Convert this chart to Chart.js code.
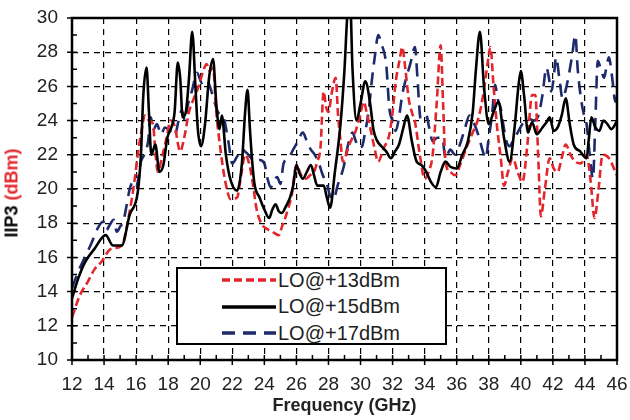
<!DOCTYPE html>
<html>
<head>
<meta charset="utf-8">
<script src="https://cdn.jsdelivr.net/npm/chart.js@4/dist/chart.umd.min.js"></script>
<style>
  body { margin: 0; background: #fff; }
  #wrap { position: relative; width: 630px; height: 420px; }
  #ytitle {
    position: absolute; left: 12px; top: 193px;
    transform: translate(-50%, -50%) rotate(-90deg);
    font: bold 18px "Liberation Sans", Arial, sans-serif; white-space: nowrap; color: #000;
  }
  #ytitle span { color: #e3262b; }
  #legend {
    position: absolute; left: 176px; top: 267px; width: 267px; height: 74px;
    border: 2px solid #000; background: #fff;
    font: 20px "Liberation Sans", Arial, sans-serif; color: #222;
  }
  .row { position: absolute; left: 0; height: 24px; display: flex; align-items: center; }
  .row svg { margin-left: 44px; margin-right: 2px; }
</style>
</head>
<body>
<div id="wrap">
  <canvas id="chart" width="630" height="420"></canvas>
  <div id="ytitle">IIP3 <span>(dBm)</span></div>
  <div id="legend"></div>
</div>
<script>
const seriesNames = ['LO@+13dBm', 'LO@+15dBm', 'LO@+17dBm'];
const seriesColors = ['#e3262b', '#000000', '#1d2a6b'];
const seriesDash = [[8, 4], [], [13, 8]];

const xTicks = [12, 14, 16, 18, 20, 22, 24, 26, 28, 30, 32, 34, 36, 38, 40, 42, 44, 46];
const yTicks = [10, 12, 14, 16, 18, 20, 22, 24, 26, 28, 30];

// LO@+13dBm
const freq13 = [12.0, 12.5, 13.0, 13.4, 13.8, 14.45, 15.1, 15.6, 15.9, 16.1, 16.35, 16.55, 16.8, 17.05, 17.2, 17.35, 17.6, 17.9, 18.15, 18.4, 18.75, 19.0, 19.3, 19.6, 19.9, 20.15, 20.4, 20.6, 20.8, 21.0, 21.25, 21.55, 21.9, 22.3, 22.55, 22.8, 23.05, 23.3, 23.5, 23.8, 24.1, 24.5, 24.9, 25.1, 25.3, 25.5, 25.7, 26.0, 26.3, 26.6, 26.85, 27.1, 27.3, 27.5, 27.7, 27.85, 28.0, 28.2, 28.45, 28.6, 28.75, 28.9, 29.1, 29.3, 29.5, 29.7, 29.95, 30.2, 30.4, 30.6, 30.85, 31.1, 31.45, 31.8, 32.0, 32.2, 32.45, 32.6, 32.8, 33.0, 33.2, 33.4, 33.7, 34.0, 34.25, 34.5, 34.75, 35.0, 35.15, 35.3, 35.6, 35.9, 36.25, 36.6, 37.0, 37.4, 37.7, 37.95, 38.1, 38.3, 38.5, 38.75, 38.95, 39.2, 39.5, 39.8, 40.1, 40.4, 40.7, 40.9, 41.1, 41.25, 41.5, 41.8, 42.05, 42.3, 42.55, 42.8, 43.1, 43.4, 43.75, 44.1, 44.35, 44.6, 44.85, 45.1, 45.5, 45.9, 46.0];
const iip3_13 = [12.5, 13.8, 14.6, 15.3, 15.7, 16.5, 16.7, 18.7, 20.5, 22.0, 23.5, 24.3, 24.0, 23.8, 22.2, 21.0, 21.8, 23.0, 24.0, 23.7, 22.2, 23.0, 24.5, 25.3, 26.0, 26.8, 27.3, 26.9, 27.1, 24.5, 22.4, 20.5, 19.4, 19.5, 20.8, 22.0, 21.5, 20.2, 18.9, 18.0, 17.7, 17.5, 17.3, 17.8, 18.3, 18.9, 19.6, 21.4, 20.8, 20.6, 20.8, 21.0, 21.6, 22.4, 25.7, 24.8, 24.5, 25.6, 26.5, 24.3, 22.8, 21.6, 22.0, 22.6, 23.0, 23.4, 24.2, 25.1, 24.4, 23.6, 22.5, 21.6, 22.4, 23.2, 24.5, 26.3, 27.6, 28.3, 27.0, 25.3, 24.5, 23.9, 22.0, 20.6, 21.0, 22.0, 25.0, 28.4, 25.0, 21.6, 21.0, 20.8, 21.5, 22.4, 23.3, 24.3, 25.8, 27.5, 28.3, 26.0, 23.8, 21.8, 20.2, 21.0, 21.8, 21.0, 20.4, 22.5, 25.5, 25.5, 21.5, 18.4, 20.0, 21.8, 21.2, 21.0, 21.8, 22.6, 22.0, 21.6, 21.5, 22.0, 20.5, 18.3, 20.0, 22.0, 21.8, 21.0, 20.8];

// LO@+15dBm
const freq15 = [12.0, 12.4, 12.8, 13.4, 14.1, 14.55, 15.1, 15.6, 16.1, 16.3, 16.45, 16.65, 16.8, 16.95, 17.2, 17.45, 17.7, 17.95, 18.2, 18.4, 18.6, 18.75, 18.9, 19.1, 19.3, 19.5, 19.7, 19.85, 20.05, 20.3, 20.55, 20.8, 21.0, 21.2, 21.35, 21.6, 21.9, 22.3, 22.6, 22.8, 22.95, 23.1, 23.25, 23.4, 23.7, 24.0, 24.3, 24.5, 24.7, 24.9, 25.1, 25.35, 25.6, 25.8, 26.0, 26.2, 26.4, 26.65, 26.9, 27.1, 27.3, 27.5, 27.7, 27.9, 28.1, 28.4, 28.75, 29.0, 29.2, 29.35, 29.5, 29.75, 30.0, 30.3, 30.6, 30.8, 31.05, 31.3, 31.6, 31.9, 32.15, 32.4, 32.65, 32.9, 33.2, 33.5, 33.8, 34.1, 34.4, 34.7, 35.0, 35.3, 35.6, 36.0, 36.35, 36.7, 37.0, 37.2, 37.45, 37.7, 38.0, 38.3, 38.6, 38.95, 39.3, 39.6, 39.85, 40.0, 40.2, 40.45, 40.7, 41.0, 41.35, 41.6, 41.8, 42.05, 42.3, 42.55, 42.8, 43.05, 43.3, 43.7, 44.1, 44.25, 44.4, 44.65, 44.9, 45.15, 45.4, 45.65, 45.9, 46.0];
const iip3_15 = [13.6, 14.8, 15.7, 16.5, 17.3, 16.7, 16.7, 18.5, 19.8, 22.0, 25.5, 27.1, 24.5, 22.0, 22.6, 21.0, 21.4, 23.0, 23.6, 24.5, 27.4, 26.5, 24.2, 24.5, 26.5, 29.2, 26.0, 23.5, 22.5, 23.8, 26.5, 27.6, 25.0, 23.5, 24.3, 22.0, 20.5, 19.9, 21.5, 24.5, 25.8, 23.5, 21.5, 20.2, 19.5, 18.8, 18.3, 18.8, 19.1, 18.7, 18.6, 19.0, 19.5, 20.2, 21.4, 20.9, 20.6, 21.0, 21.4, 20.8, 20.2, 20.2, 20.2, 19.5, 18.9, 21.0, 23.8, 27.0, 30.5, 31.0, 27.0, 24.0, 25.0, 26.3, 25.0, 23.5, 22.8, 22.5, 22.2, 21.8, 22.2, 22.6, 23.5, 24.3, 22.8, 21.6, 21.4, 21.0, 20.4, 20.1, 21.0, 21.6, 21.3, 21.2, 22.0, 22.8, 24.5, 27.0, 29.2, 26.0, 23.8, 24.5, 25.1, 23.0, 21.6, 23.5, 26.0, 26.9, 25.5, 23.3, 23.9, 23.2, 23.6, 23.9, 24.2, 23.4, 23.6, 24.3, 25.3, 23.8, 22.6, 22.2, 21.8, 23.0, 24.2, 23.6, 23.4, 24.0, 23.8, 23.5, 23.8, 24.0];

// LO@+17dBm
const freq17 = [12.0, 12.4, 12.8, 13.2, 13.6, 13.95, 14.15, 14.35, 14.6, 14.8, 15.0, 15.2, 15.4, 15.6, 15.8, 16.0, 16.3, 16.5, 16.75, 16.9, 17.1, 17.3, 17.55, 17.8, 18.1, 18.4, 18.65, 18.85, 19.05, 19.2, 19.5, 19.8, 20.1, 20.4, 20.6, 20.8, 21.1, 21.45, 21.75, 22.0, 22.3, 22.6, 22.9, 23.1, 23.4, 23.7, 24.0, 24.2, 24.4, 24.6, 24.8, 25.0, 25.2, 25.5, 25.8, 26.1, 26.4, 26.65, 26.9, 27.15, 27.4, 27.65, 27.9, 28.1, 28.3, 28.6, 28.95, 29.2, 29.5, 29.7, 29.9, 30.1, 30.3, 30.5, 30.7, 30.9, 31.1, 31.3, 31.6, 31.8, 32.0, 32.2, 32.4, 32.6, 32.85, 33.1, 33.4, 33.55, 33.75, 34.1, 34.3, 34.5, 34.8, 35.1, 35.3, 35.6, 35.9, 36.2, 36.5, 36.8, 37.1, 37.4, 37.6, 37.8, 38.0, 38.2, 38.4, 38.55, 38.75, 38.9, 39.1, 39.3, 39.5, 39.8, 40.1, 40.5, 40.8, 41.1, 41.35, 41.6, 41.75, 41.9, 42.05, 42.2, 42.4, 42.6, 42.8, 43.0, 43.2, 43.4, 43.55, 43.75, 43.9, 44.1, 44.3, 44.5, 44.65, 44.8, 45.0, 45.2, 45.35, 45.5, 45.7, 45.9, 46.0];
const iip3_17 = [14.2, 15.2, 16.0, 16.8, 17.7, 18.1, 17.6, 17.9, 18.2, 17.5, 17.8, 18.1, 19.0, 20.0, 20.4, 20.1, 21.6, 22.0, 22.8, 24.2, 23.5, 23.8, 23.2, 23.6, 23.4, 23.1, 24.0, 24.6, 24.0, 24.8, 25.8, 26.8, 26.2, 26.4, 26.0, 25.4, 24.5, 24.2, 22.8, 21.5, 21.9, 22.3, 22.1, 21.9, 21.6, 21.7, 21.5, 20.6, 20.1, 20.5, 20.7, 20.3, 21.5, 21.8, 22.3, 22.8, 23.3, 22.8, 22.3, 22.0, 21.5, 20.8, 20.3, 19.6, 19.4, 20.3, 21.3, 22.5, 23.3, 22.8, 22.4, 22.5, 23.4, 24.5, 26.3, 27.8, 29.0, 28.5, 27.3, 24.7, 24.0, 23.4, 24.2, 25.5, 26.5, 27.3, 28.3, 26.5, 24.1, 24.3, 23.5, 22.8, 23.0, 23.0, 21.8, 22.3, 22.0, 22.6, 23.5, 24.3, 23.8, 23.0, 22.3, 21.8, 23.0, 24.3, 26.1, 25.3, 24.7, 23.8, 22.8, 22.5, 22.8, 23.3, 23.8, 24.1, 24.0, 24.3, 25.5, 27.1, 26.5, 25.7, 26.5, 27.7, 26.5, 25.3, 25.8, 26.7, 27.8, 29.0, 27.0, 25.3, 24.5, 23.8, 22.0, 20.6, 24.0, 27.5, 27.0, 26.5, 27.2, 27.7, 26.5, 25.1, 26.0];

const toPoints = (xs, ys) => xs.map((f, i) => ({ x: f, y: ys[i] }));
const seriesData = [toPoints(freq13, iip3_13), toPoints(freq15, iip3_15), toPoints(freq17, iip3_17)];

// order: blue behind, then red, black on top
const drawOrder = [2, 0, 1];

const axisMarks = {
  id: 'axisMarks',
  afterDraw(chart) {
    const { ctx, chartArea: a, scales: { x, y } } = chart;
    ctx.save();
    ctx.strokeStyle = '#000';
    ctx.lineWidth = 1.5;
    ctx.beginPath();
    for (let v = xTicks[0]; v <= xTicks[xTicks.length - 1]; v++) {
      const px = x.getPixelForValue(v);
      const major = xTicks.includes(v);
      ctx.moveTo(px, a.bottom + (major ? 5 : 0));
      ctx.lineTo(px, a.bottom - 5);
    }
    for (let v = yTicks[0]; v <= yTicks[yTicks.length - 1]; v++) {
      const py = y.getPixelForValue(v);
      const major = yTicks.includes(v);
      ctx.moveTo(a.left - (major ? 5 : 0), py);
      ctx.lineTo(a.left + 5, py);
    }
    ctx.stroke();
    ctx.lineWidth = 2.5;
    ctx.strokeRect(a.left, a.top, a.right - a.left, a.bottom - a.top);
    ctx.restore();
  }
};

new Chart(document.getElementById('chart'), {
  type: 'line',
  data: {
    datasets: seriesNames.map((name, i) => ({
      label: name,
      data: seriesData[i],
      borderColor: seriesColors[i],
      backgroundColor: seriesColors[i],
      borderDash: seriesDash[i],
      borderWidth: 2.6,
      pointRadius: 0,
      cubicInterpolationMode: 'monotone',
      order: drawOrder.indexOf(i) * -1
    }))
  },
  options: {
    responsive: false,
    animation: false,
    layout: { padding: { top: 18, right: 13, left: 0, bottom: 0 } },
    plugins: { legend: { display: false }, tooltip: { enabled: false } },
    scales: {
      x: {
        type: 'linear',
        min: 12, max: 46,
        afterBuildTicks: s => { s.ticks = xTicks.map(v => ({ value: v })); },
        afterFit: s => { s.height = 60; s.paddingLeft = 0; s.paddingRight = 0; },
        ticks: { padding: 13, color: '#222', font: { family: 'Liberation Sans, Arial', size: 19 }, maxRotation: 0 },
        grid: { color: '#000', lineWidth: 1.2, drawTicks: false },
        border: { display: false, dash: [6, 5] },
        title: { display: true, text: 'Frequency (GHz)', color: '#222', font: { family: 'Liberation Sans, Arial', size: 18, weight: 'bold' }, padding: { top: 0, bottom: 3 } }
      },
      y: {
        min: 10, max: 30,
        afterBuildTicks: s => { s.ticks = yTicks.map(v => ({ value: v })); },
        afterFit: s => { s.width = 72; s.paddingTop = 0; s.paddingBottom = 0; },
        ticks: { padding: 14, color: '#222', font: { family: 'Liberation Sans, Arial', size: 19 } },
        grid: { color: '#000', lineWidth: 1.2, drawTicks: false },
        border: { display: false, dash: [6, 5] }
      }
    }
  },
  plugins: [axisMarks]
});

// legend overlay
const legend = document.getElementById('legend');
seriesNames.forEach((name, i) => {
  const row = document.createElement('div');
  row.className = 'row';
  row.style.top = (-1 + i * 26.5) + 'px';
  const dash = seriesDash[i].length ? seriesDash[i].join(' ') : 'none';
  row.innerHTML = '<svg width="54" height="10"><line x1="0" y1="5" x2="54" y2="5" stroke="' + seriesColors[i] +
    '" stroke-width="3.5" stroke-dasharray="' + dash + '"/></svg><span>' + name + '</span>';
  legend.appendChild(row);
});
</script>
</body>
</html>
